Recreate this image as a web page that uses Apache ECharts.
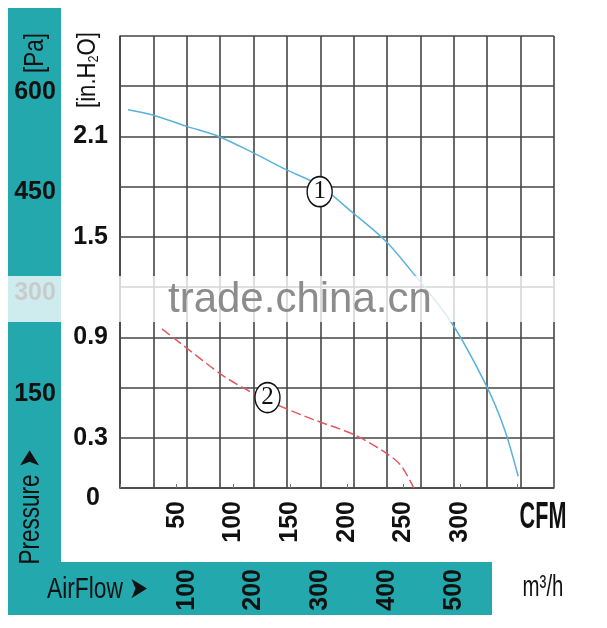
<!DOCTYPE html>
<html>
<head>
<meta charset="utf-8">
<title>Fan curve</title>
<script src="https://cdn.jsdelivr.net/npm/echarts@6/dist/echarts.min.js"></script>
<style>
  html, body { margin: 0; padding: 0; background: #fff; }
  #main { width: 607px; height: 628px; }
</style>
</head>
<body>
<div id="main"></div>
<script>
  // curve 1 (blue) and curve 2 (red, dashed): airflow in CFM, pressure in in.H2O
  const curve1Cfm = [7, 28, 59, 87, 118, 147, 175, 206, 235, 260, 292, 323, 339, 351];
  const curve1Inh2o = [2.26, 2.23, 2.16, 2.10, 2.00, 1.90, 1.81, 1.64, 1.47, 1.27, 0.99, 0.61, 0.35, 0.07];
  const curve2Cfm = [37, 60, 91, 119, 141, 170, 206, 232, 247, 259];
  const curve2Inh2o = [0.95, 0.83, 0.67, 0.56, 0.49, 0.41, 0.32, 0.22, 0.14, 0.0];

  // where the circled numbers sit (CFM, in.H2O)
  const tag1 = [176, 1.77];
  const tag2 = [130, 0.54];

  // tick labels
  const inH2oLabels = [0, 0.3, 0.9, 1.5, 2.1];
  const paLabels = [150, 300, 450, 600];
  const cfmLabels = [50, 100, 150, 200, 250, 300];
  const m3hLabels = [100, 200, 300, 400, 500];

  const M3H_PER_CFM = 1.699;
  const PA_PER_INH2O = 249.09;
  const m3hMax = 650;
  const inMax = 2.7;

  const teal = '#22a8ad';
  const gridColor = '#454545';
  const sans = "'Liberation Sans', Arial, sans-serif";

  const has = (list, v) => list.some(x => Math.abs(x - v) < 1e-6);
  const pair = (xs, ys) => xs.map((x, i) => [x, ys[i]]);
  const ellipse = 'path://M50,0 A50,50 0 1,1 50,100 A50,50 0 1,1 50,0 Z';

  const myChart = echarts.init(document.getElementById('main'), null, { renderer: 'canvas' });

  const tagPoint = (coord, text) => ({
    symbol: ellipse,
    symbolSize: [25, 30],
    silent: true,
    itemStyle: { color: '#fff', borderColor: '#111', borderWidth: 1.5 },
    label: {
      show: true, position: 'inside', formatter: text,
      color: '#111', fontSize: 25, fontFamily: "'Liberation Serif', serif"
    },
    data: [{ coord: coord }]
  });

  // text that is squeezed sideways, like the condensed face of the original
  const narrowText = (text, x, y, size, sx, opts) => Object.assign({
    type: 'text', x: x, y: y, scaleX: sx, z: 5,
    style: { text: text, fill: '#111', font: size + 'px ' + sans, align: 'center', verticalAlign: 'middle' }
  }, opts || {});

  const labelStyle = { color: '#111', fontSize: 25, fontWeight: 'bold', fontFamily: sans };

  myChart.setOption({
    animation: false,
    backgroundColor: '#fff',
    grid: { left: 120, top: 36, width: 434, height: 452 },
    xAxis: [{
      // m3/h, also gives the vertical grid lines
      type: 'value', min: 0, max: m3hMax, interval: 50, position: 'bottom',
      axisLine: { show: true, lineStyle: { color: gridColor, width: 1.6 } },
      axisTick: { show: false },
      splitLine: { show: true, lineStyle: { color: gridColor, width: 1.6 } },
      axisLabel: Object.assign({
        rotate: 90, margin: 81,
        formatter: v => has(m3hLabels, v) ? String(v) : ''
      }, labelStyle)
    }, {
      type: 'value', min: 0, max: m3hMax / M3H_PER_CFM, interval: 50, position: 'bottom',
      axisLine: { show: false },
      axisTick: { show: true, inside: true, length: 4, lineStyle: { color: '#777', width: 1 } },
      splitLine: { show: false },
      axisLabel: Object.assign({
        rotate: 90, margin: 13,
        formatter: v => has(cfmLabels, v) ? String(v) : ''
      }, labelStyle)
    }],
    yAxis: [{
      type: 'value', min: 0, max: inMax, interval: 0.3, position: 'left',
      axisLine: { show: true, lineStyle: { color: gridColor, width: 1.6 } },
      axisTick: { show: false },
      splitLine: { show: true, lineStyle: { color: gridColor, width: 1.6 } },
      axisLabel: Object.assign({
        margin: 12,
        formatter: v => {
          if (Math.abs(v) < 1e-6) return '{z|0}';
          return has(inH2oLabels, v) ? String(Math.round(v * 10) / 10) : '';
        },
        rich: { z: Object.assign({ padding: [20, 8, 0, 0] }, labelStyle) }
      }, labelStyle)
    }, {
      type: 'value', min: 0, max: inMax * PA_PER_INH2O, interval: 75, position: 'left',
      axisLine: { show: false }, axisTick: { show: false }, splitLine: { show: false },
      axisLabel: Object.assign({
        margin: 85, align: 'center',
        formatter: v => has(paLabels, v) ? '{p|' + v + '}' : '',
        rich: { p: Object.assign({ padding: [14, 0, 0, 0] }, labelStyle) }
      }, labelStyle)
    }],
    series: [{
      name: '1', type: 'line', xAxisIndex: 1, yAxisIndex: 0,
      data: pair(curve1Cfm, curve1Inh2o),
      smooth: 0.3, showSymbol: false, z: 3,
      lineStyle: { color: '#5ab2da', width: 1.5 },
      markPoint: tagPoint(tag1, '1')
    }, {
      name: '2', type: 'line', xAxisIndex: 1, yAxisIndex: 0,
      data: pair(curve2Cfm, curve2Inh2o),
      smooth: 0.3, showSymbol: false, z: 3,
      lineStyle: { color: '#e2585f', width: 1.5, type: [10, 4] },
      markPoint: tagPoint(tag2, '2')
    }],
    graphic: [
      // teal L-shaped bands
      { type: 'rect', z: -10, shape: { x: 8, y: 8, width: 53, height: 607 }, style: { fill: teal } },
      { type: 'rect', z: -10, shape: { x: 8, y: 562, width: 484, height: 53 }, style: { fill: teal } },
      narrowText('[Pa]', 35, 53, 28, 0.8, { rotation: Math.PI / 2 }),
      {
        type: 'text', x: 88, y: 70, rotation: Math.PI / 2, scaleX: 0.85, z: 5,
        style: {
          text: '[in.H{s|2}O]', fill: '#111', font: '26px ' + sans, align: 'center', verticalAlign: 'middle',
          rich: { s: { fontSize: 15, fontFamily: sans, fill: '#111', padding: [12, 0, 0, 0] } }
        }
      },
      narrowText('Pressure ➤', 31, 507, 30, 0.75, { rotation: Math.PI / 2 }),
      narrowText('AirFlow ➤', 47, 590, 30, 0.76, { style: { text: 'AirFlow ➤', fill: '#111', font: '30px ' + sans, align: 'left', verticalAlign: 'middle' } }),
      narrowText('CFM', 543, 518, 36, 0.6, { style: { text: 'CFM', fill: '#111', font: 'bold 36px ' + sans, align: 'center', verticalAlign: 'middle' } }),
      narrowText('m³/h', 543, 588, 30, 0.68),
      // faded watermark band
      { type: 'rect', z: 50, shape: { x: 0, y: 276, width: 565, height: 46 }, style: { fill: 'rgba(255,255,255,0.78)' } },
      {
        type: 'text', x: 168, y: 300, z: 51,
        style: { text: 'trade.china.cn', fill: '#8c8c8c', font: '42px ' + sans, align: 'left', verticalAlign: 'middle' }
      }
    ]
  });
</script>
</body>
</html>
